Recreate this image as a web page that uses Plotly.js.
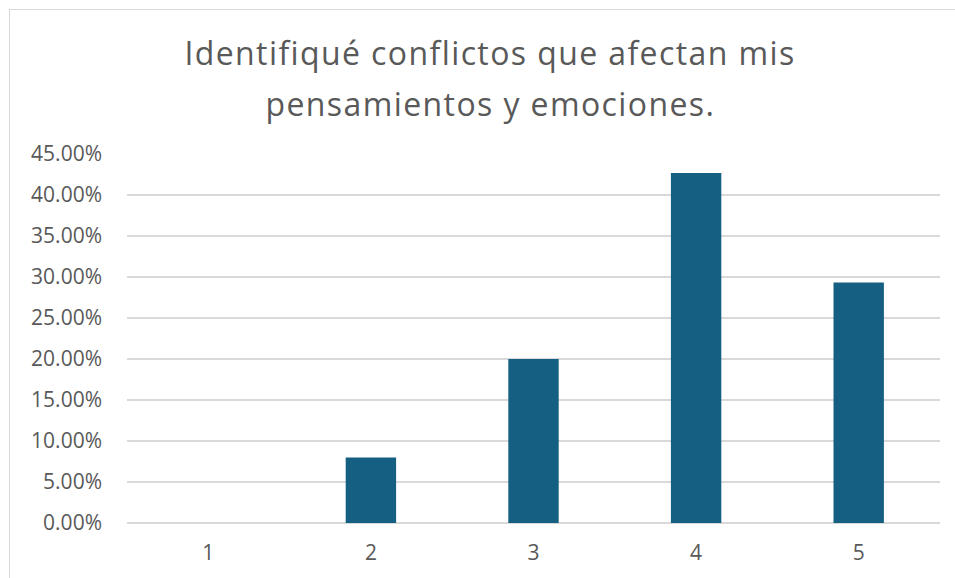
<!DOCTYPE html>
<html>
<head>
<meta charset="utf-8">
<script src="https://cdn.plot.ly/plotly-3.0.1.min.js"></script>
<style>
  html, body { margin: 0; padding: 0; background: #ffffff; }
  #frame { position: absolute; left: 9px; top: 9px; width: 960px; height: 590px;
           border-left: 1px solid #d9d9d9; border-top: 1px solid #d9d9d9; }
  #chart { position: absolute; left: 0; top: 0; width: 955px; height: 578px; }
  #chart .gtitle, #chart .annotation-text { letter-spacing: 1.4px; }
</style>
</head>
<body>
<div id="frame"></div>
<div id="chart"></div>
<script>
const categories = ['1', '2', '3', '4', '5'];
const values = [0, 0.08, 0.20, 0.4267, 0.2933];
const titleLine1 = 'Identifiqué conflictos que afectan mis';
const titleLine2 = 'pensamientos y emociones.';
const yTickValues = [0, 0.05, 0.10, 0.15, 0.20, 0.25, 0.30, 0.35, 0.40, 0.45];

const titleFont = { family: 'Open Sans, sans-serif', size: 32, color: '#595959' };
const tickFont = { family: 'Open Sans, sans-serif', size: 21, color: '#595959' };

const trace = {
  type: 'bar',
  x: categories,
  y: values,
  marker: { color: '#156082', line: { color: '#5b8fab', width: 0 } },
  hoverinfo: 'skip'
};

const layout = {
  width: 955,
  height: 578,
  paper_bgcolor: 'rgba(0,0,0,0)',
  plot_bgcolor: 'rgba(0,0,0,0)',
  margin: { l: 127, r: 15, t: 154, b: 55 },
  bargap: 0.69,
  showlegend: false,
  title: {
    text: titleLine1,
    font: titleFont,
    x: 490 / 955, xanchor: 'center', xref: 'container',
    y: 1 - 54 / 578, yanchor: 'middle', yref: 'container'
  },
  annotations: [{
    text: titleLine2,
    font: titleFont,
    xref: 'paper', yref: 'paper',
    x: (490 - 127) / 813, xanchor: 'center',
    y: (523 - 103) / 369, yanchor: 'middle',
    showarrow: false
  }],
  xaxis: {
    type: 'category',
    tickfont: tickFont,
    showgrid: false, zeroline: false, showline: false,
    ticks: '', ticklabelstandoff: 15
  },
  yaxis: {
    range: [0, 0.45],
    tickvals: yTickValues,
    tickformat: '.2%',
    tickfont: tickFont,
    gridcolor: '#d9d9d9', gridwidth: 1.3,
    zeroline: true, zerolinecolor: '#d9d9d9', zerolinewidth: 1.3,
    showline: false, ticks: '', ticklabelstandoff: 24
  }
};

Plotly.newPlot('chart', [trace], layout, { displayModeBar: false, staticPlot: true });
</script>
</body>
</html>
